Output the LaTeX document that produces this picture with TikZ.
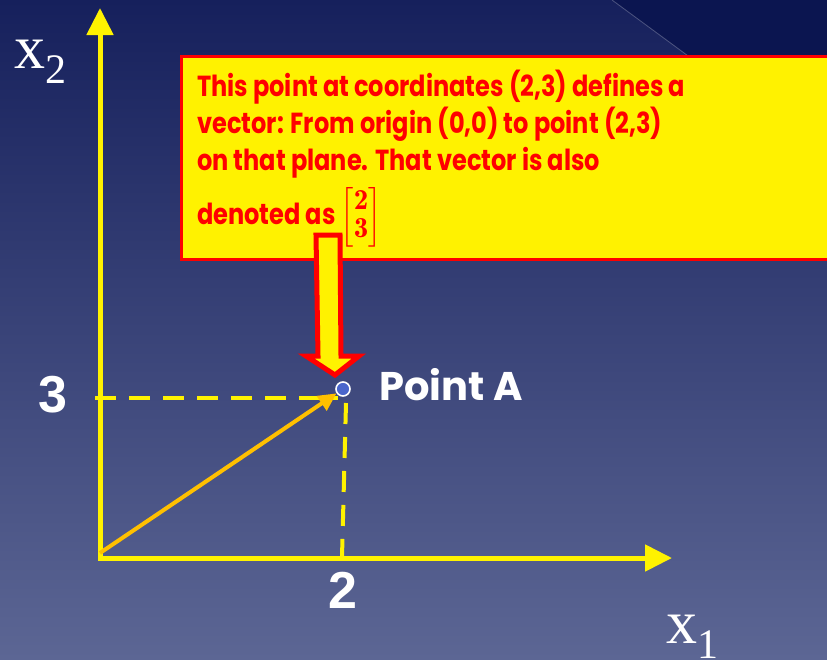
\documentclass[tikz,border=0pt]{standalone}
\usepackage{amsmath}
\usepackage{fontspec}
\newfontfamily\gothic{Poppins}[FakeStretch=0.83]
\newfontfamily\gothicw{Poppins}
\newfontfamily\arialf{Liberation Sans}
\newfontfamily\timesf{Liberation Serif}
\usetikzlibrary{arrows.meta}
\definecolor{bgtop}{HTML}{16205C}
\definecolor{bgmid}{HTML}{2F3A72}
\definecolor{bgbot}{HTML}{5C6694}
\definecolor{bgdark}{HTML}{0B1550}
\definecolor{gold}{HTML}{FFC000}
\definecolor{ptblue}{HTML}{4A66CC}
\tikzset{
  axis/.style={yellow, line width=5pt},
  dashline/.style={yellow, line width=4pt, dash pattern=on 21pt off 13pt},
  vec/.style={gold, line width=4pt, -{Triangle[length=18pt,width=17pt]}},
  boxtext/.style={red, font=\gothic\bfseries\fontsize{29}{31}\selectfont, inner sep=0pt},
  numlabel/.style={white, font=\arialf\bfseries\fontsize{52}{52}\selectfont, inner sep=0pt},
  axlabel/.style={white, inner sep=0pt}
}
\begin{document}
\begin{tikzpicture}[x=1pt,y=-1pt]
\useasboundingbox (0,0) rectangle (827,659);
\shade[top color=bgtop, middle color=bgmid, bottom color=bgbot] (0,0) rectangle (827,659);
\fill[bgdark] (612,0) -- (827,0) -- (827,158) -- cycle;
\draw[line width=0.8pt, white, opacity=0.25] (612,0) -- (827,158);

% callout box
\node[draw=red, line width=3pt, fill=yellow, anchor=north west, minimum width=680pt, minimum height=203pt, inner sep=0pt] (callout) at (180,55) {};
\node[boxtext, anchor=base west] (l1) at (197,96) {This point at coordinates (2,3) defines a};
\node[boxtext, anchor=base west] (l2) at (197,133) {vector: From origin (0,0) to point (2,3)};
\node[boxtext, anchor=base west] (l3) at (197,170) {on that plane. That vector is also};
\node[boxtext, anchor=base west] (l4) at (197,224) {denoted as $\renewcommand\arraystretch{0.9}\left[\begin{array}{@{}c@{}}\mathbf{2}\\ \mathbf{3}\end{array}\right]$};

% block arrow
\draw[red, line width=5pt, fill=yellow, line join=miter] (316,235) -- (340,235) -- (341,356) -- (359,356) -- (335,375) -- (306,356) -- (318,356) -- cycle;

% axes
\coordinate (O) at (100,558);
\coordinate (Ytip) at (100,8);
\coordinate (Xtip) at (672,558);
\draw[axis, {Triangle[length=27pt,width=26pt]}-{Triangle[length=27pt,width=26pt]}] (Ytip) -- (O) -- (Xtip);

% dashed guides
\coordinate (h0) at (95,398);
\coordinate (h1) at (338,398);
\coordinate (v0) at (346,403);
\coordinate (v1) at (342,557);
\draw[dashline] (h0) -- (h1);
\draw[dashline] (v0) -- (v1);

% point A
\node[circle, fill=ptblue, draw=white, line width=1.6pt, minimum size=14pt, inner sep=0pt] (A) at (343,389) {};
\coordinate (Ov) at (100,553);
\draw[vec] (Ov) -- (A);
\node[anchor=base west, white, inner sep=0pt, font=\gothicw\bfseries\fontsize{40}{40}\selectfont] (Alabel) at (379,400) {Point A};

% numbers
\node[numlabel] (n3) at (53,395) {3};
\node[numlabel] (n2) at (343,590) {2};

% axis labels
\node[axlabel, anchor=base west] (x2) at (14,68) {\timesf\fontsize{62}{62}\selectfont x\raisebox{-15pt}{\fontsize{42}{42}\selectfont 2}};
\node[axlabel, anchor=base west] (x1) at (666,643) {\timesf\fontsize{62}{62}\selectfont x\raisebox{-15pt}{\fontsize{42}{42}\selectfont 1}};
\end{tikzpicture}
\end{document}
